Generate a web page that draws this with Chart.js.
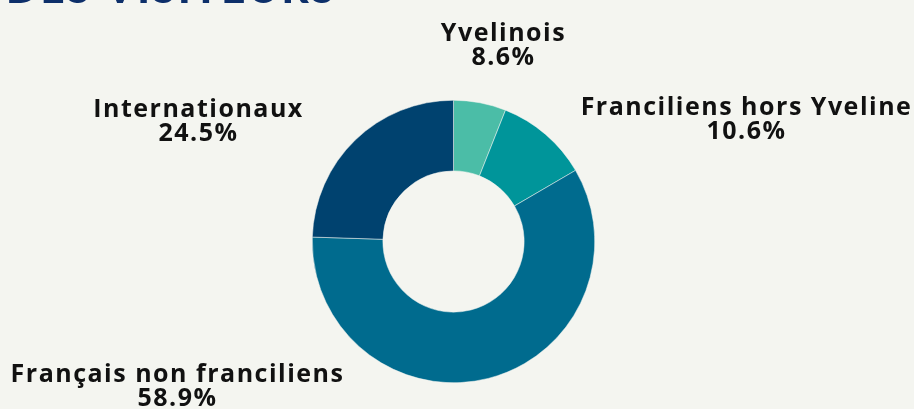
<!DOCTYPE html>
<html>
<head>
<meta charset="utf-8">
<script src="https://cdn.jsdelivr.net/npm/chart.js@4"></script>
<style>
  html, body { margin: 0; padding: 0; background: #f4f5f0; }
  #wrap { position: relative; width: 914px; height: 409px; }
</style>
</head>
<body>
<div id="wrap"><canvas id="donut"></canvas></div>
<script>
// categories and values (drawn share) + the percentages printed on the labels
const categories = ['Yvelinois', 'Franciliens hors Yveline', 'Français non franciliens', 'Internationaux'];
const shares = [6.0, 10.6, 58.9, 24.5];
const labelTexts = ['8.6%', '10.6%', '58.9%', '24.5%'];
const colors = ['#4bbda7', '#00959a', '#006b8e', '#00426f'];

// where each label sits, relative to the doughnut centre (x offset, first baseline offset)
const labelOffsets = [[50, -201], [293, -127], [-276, 140.5], [-255, -125]];

const labelPlugin = {
    id: 'outerLabels',
    afterDatasetsDraw(chart) {
        const ctx = chart.ctx;
        const arcs = chart.getDatasetMeta(0).data;
        ctx.save();

        // cut-off heading at the top
        ctx.font = '900 42px Lato';
        ctx.fillStyle = '#0d2f6a';
        ctx.textAlign = 'right';
        ctx.textBaseline = 'alphabetic';
        ctx.letterSpacing = '2.5px';
        ctx.fillText('PROVENANCE DES VISITEURS', 337, 3);

        ctx.font = 'bold 25px "Open Sans"';
        ctx.fillStyle = '#111111';
        ctx.textAlign = 'center';
        ctx.letterSpacing = '1.5px';
        arcs.forEach((arc, i) => {
            const x = arc.x + labelOffsets[i][0];
            const y = arc.y + labelOffsets[i][1];
            ctx.fillText(categories[i], x, y);
            ctx.fillText(labelTexts[i], x, y + 24);
        });
        ctx.restore();
    }
};

new Chart(document.getElementById('donut').getContext('2d'), {
    type: 'doughnut',
    data: {
        labels: categories,
        datasets: [{
            data: shares,
            backgroundColor: colors,
            borderColor: '#f4f5f0',
            borderWidth: 0.5
        }]
    },
    options: {
        responsive: true,
        maintainAspectRatio: false,
        animation: false,
        cutout: '50%',
        layout: { padding: { top: 100, bottom: 26, left: 0, right: 7 } },
        plugins: {
            legend: { display: false },
            tooltip: { enabled: false }
        }
    },
    plugins: [labelPlugin]
});
</script>
</body>
</html>
